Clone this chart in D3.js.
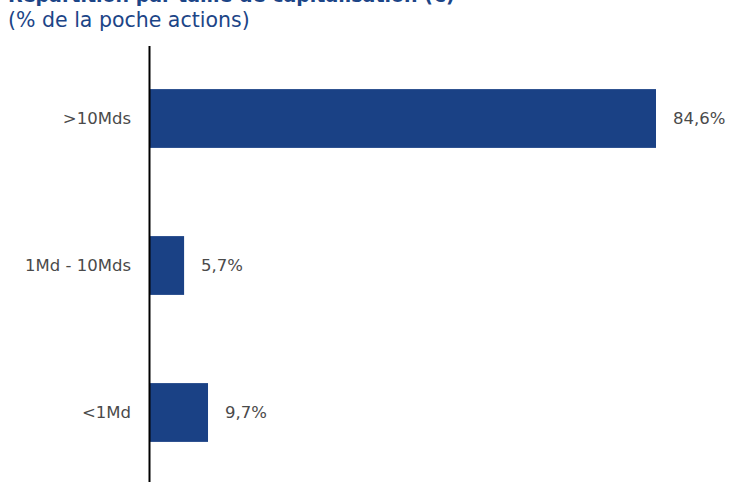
<!DOCTYPE html>
<meta charset="utf-8">
<style>
  body { margin: 0; background: #fff; }
  svg text { font-family: "DejaVu Sans", sans-serif; }
  .cat { font-size: 16.5px; fill: #4a4a4a; }
  .val { font-size: 16.5px; fill: #4a4a4a; }
  .title { font-size: 19px; font-weight: bold; fill: #1c4587; }
  .subtitle { font-size: 20.5px; fill: #1c4587; }
</style>
<body>
<script src="https://cdn.jsdelivr.net/npm/d3@7"></script>
<script>

  var categories = [">10Mds", "1Md - 10Mds", "<1Md"];
  var values = [84.6, 5.7, 9.7];
  var valueLabels = ["84,6%", "5,7%", "9,7%"];

  var width = 748, height = 482;
  var x0 = 150;

  var svg = d3.select("body").append("svg")
    .attr("width", width)
    .attr("height", height);

  // Title (cut off at top) and subtitle.
  svg.append("text")
    .attr("class", "title")
    .attr("x", 8)
    .attr("y", 2)
    .text("Répartition par taille de capitalisation (€)");

  svg.append("text")
    .attr("class", "subtitle")
    .attr("x", 8)
    .attr("y", 27)
    .text("(% de la poche actions)");

  var x = d3.scaleLinear()
    .domain([0, 84.6])
    .range([x0, 656]);

  var y = d3.scaleBand()
    .domain(categories)
    .range([45, 486])
    .paddingInner(0.6)
    .paddingOuter(0.3);

  // Bars.
  svg.selectAll(".bar")
    .data(values)
    .enter().append("rect")
    .attr("class", "bar")
    .attr("x", x(0))
    .attr("y", function(d, i) { return y(categories[i]); })
    .attr("width", function(d) { return x(d) - x(0); })
    .attr("height", y.bandwidth())
    .attr("fill", "#1a4185");

  // Value labels.
  svg.selectAll(".val")
    .data(values)
    .enter().append("text")
    .attr("class", "val")
    .attr("x", function(d) { return x(d) + 17; })
    .attr("y", function(d, i) { return y(categories[i]) + y.bandwidth() / 2; })
    .attr("dy", "0.35em")
    .text(function(d, i) { return valueLabels[i]; });

  // Category labels.
  svg.selectAll(".cat")
    .data(categories)
    .enter().append("text")
    .attr("class", "cat")
    .attr("x", 131)
    .attr("y", function(d) { return y(d) + y.bandwidth() / 2; })
    .attr("dy", "0.35em")
    .attr("text-anchor", "end")
    .text(function(d) { return d; });

  // Vertical axis line.
  svg.append("line")
    .attr("x1", x0 - 0.5)
    .attr("x2", x0 - 0.5)
    .attr("y1", 46)
    .attr("y2", height)
    .attr("stroke", "#000")
    .attr("stroke-width", 2);

</script>
